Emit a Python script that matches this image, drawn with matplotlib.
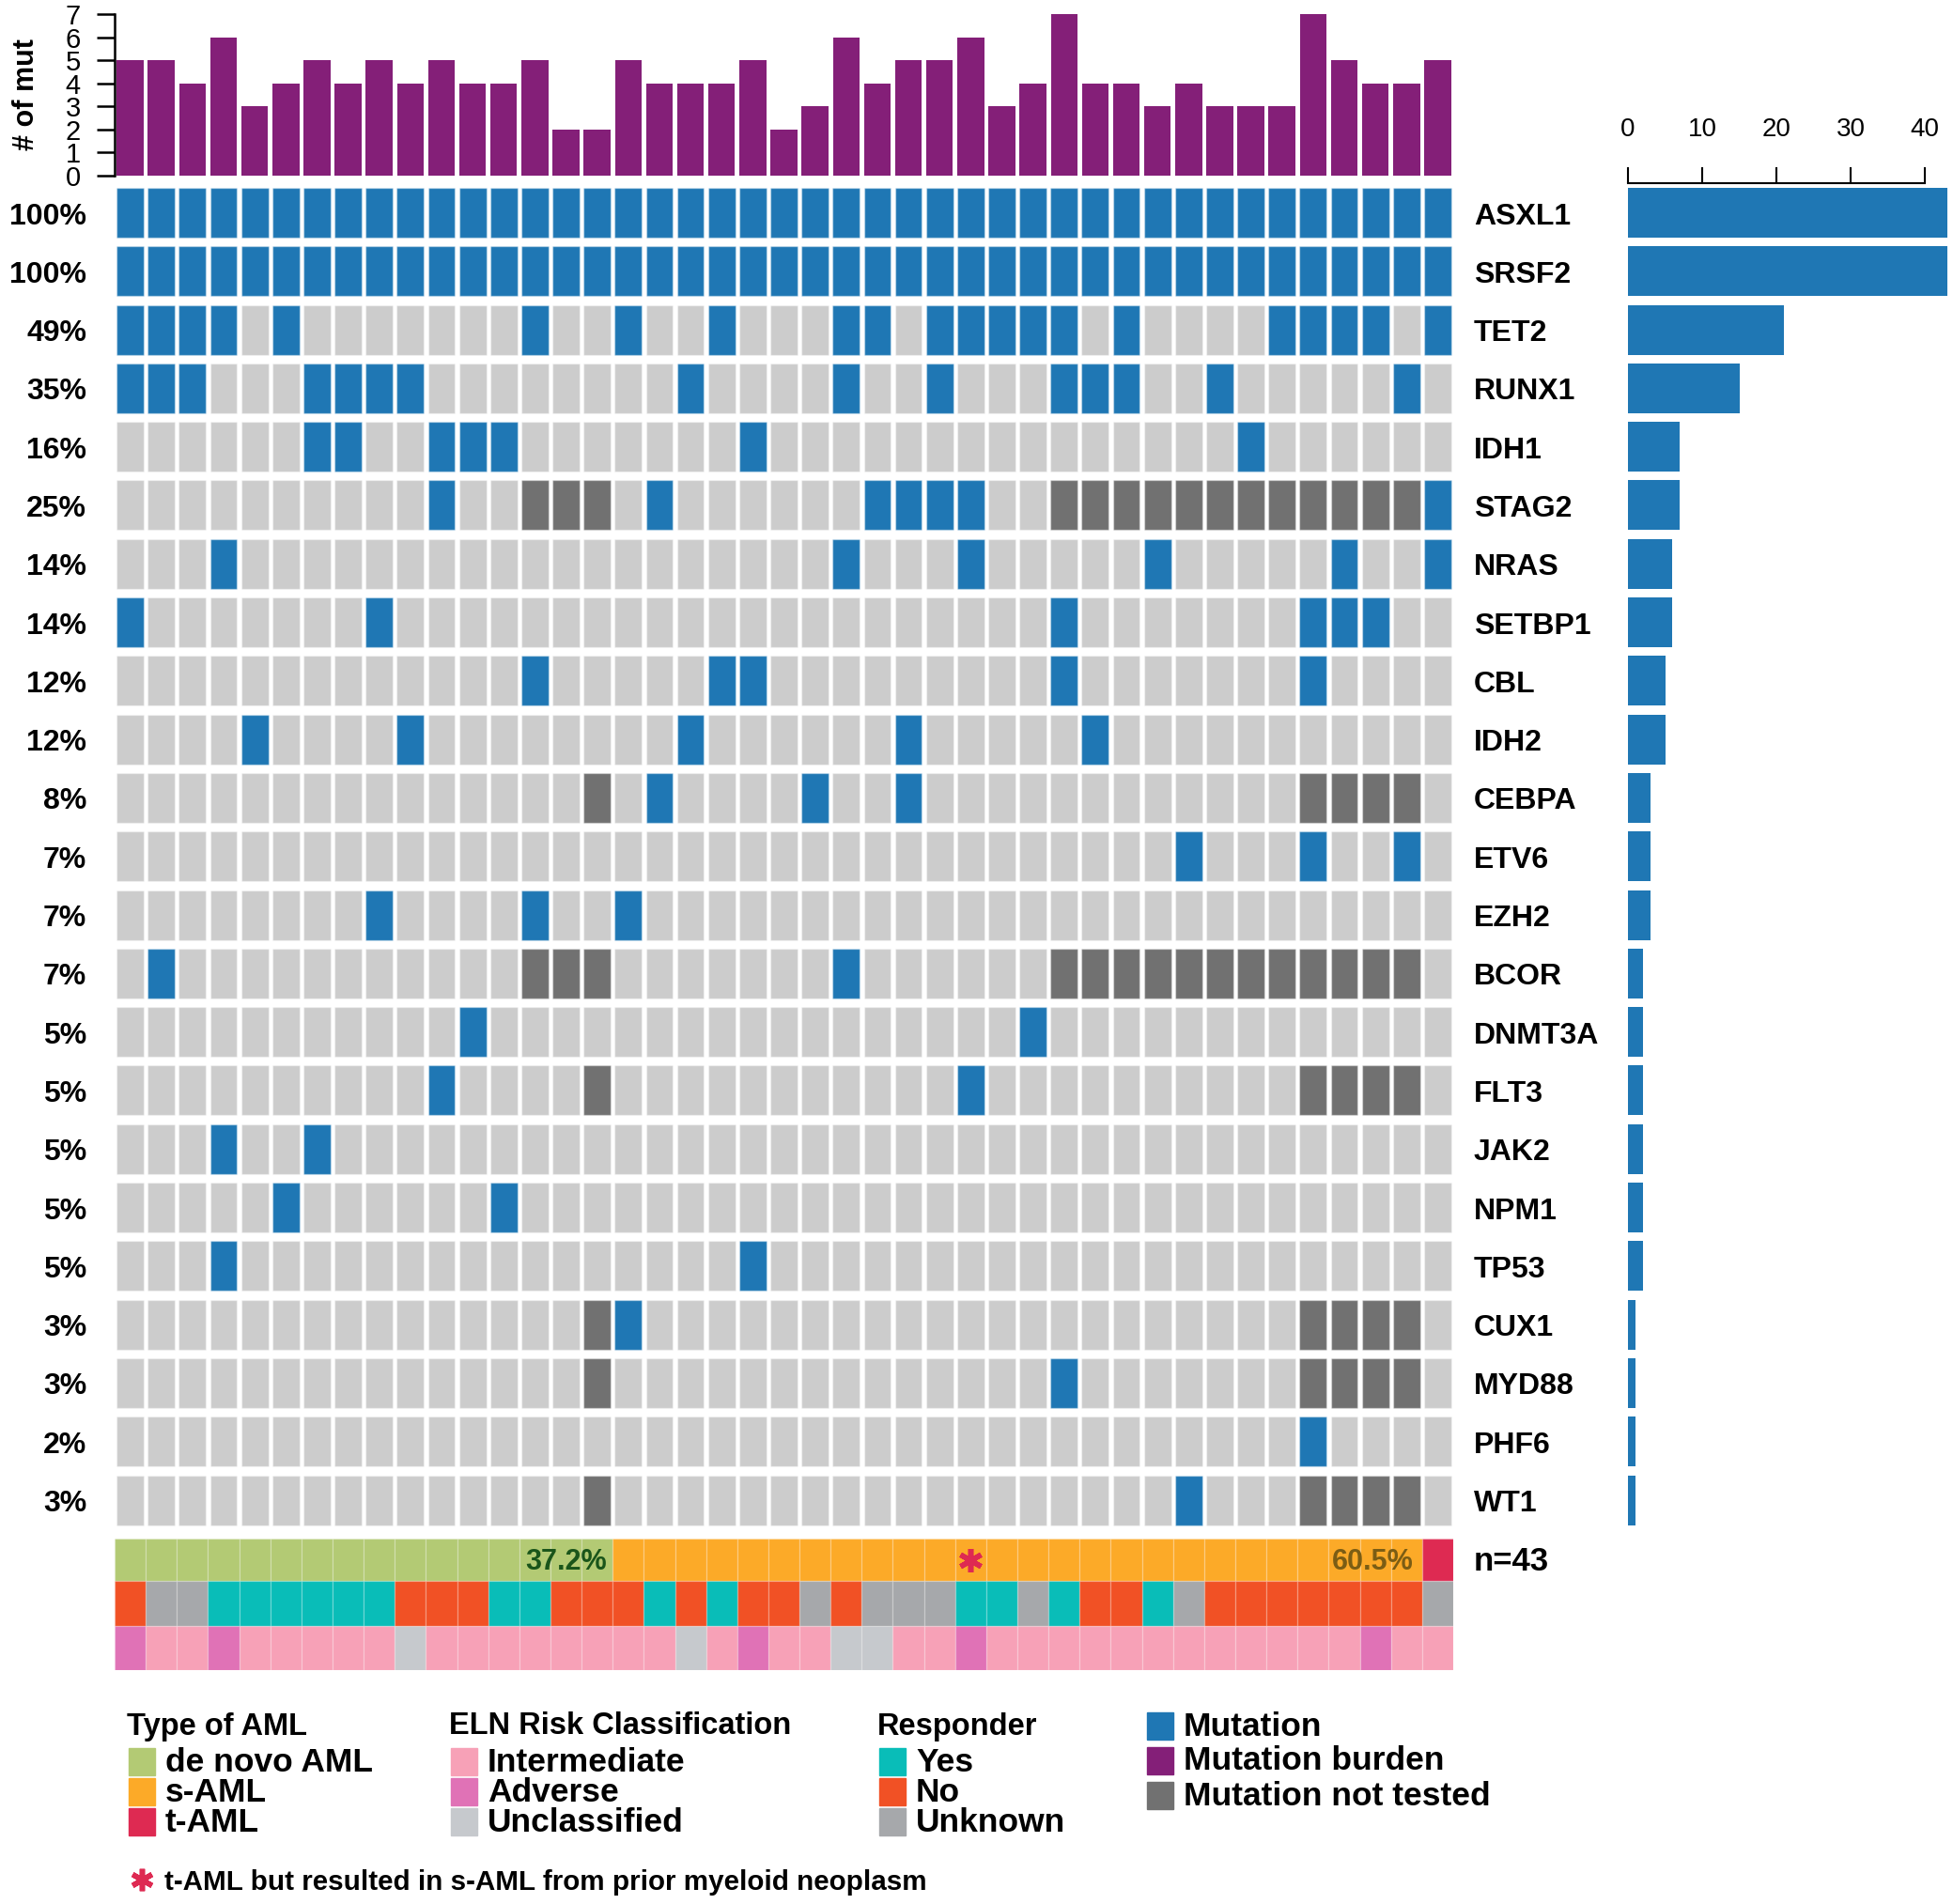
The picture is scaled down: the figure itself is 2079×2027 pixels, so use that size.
import numpy as np
import matplotlib
matplotlib.use('Agg')
import matplotlib.pyplot as plt
from matplotlib.patches import Rectangle

plt.rcParams['font.family'] = ['Liberation Sans', 'DejaVu Sans']

# genes, top to bottom, with the printed frequency labels
genes = ['ASXL1', 'SRSF2', 'TET2', 'RUNX1', 'IDH1', 'STAG2', 'NRAS', 'SETBP1',
         'CBL', 'IDH2', 'CEBPA', 'ETV6', 'EZH2', 'BCOR', 'DNMT3A', 'FLT3',
         'JAK2', 'NPM1', 'TP53', 'CUX1', 'MYD88', 'PHF6', 'WT1']
pct_labels = ['100%', '100%', '49%', '35%', '16%', '25%', '14%', '14%', '12%',
              '12%', '8%', '7%', '7%', '7%', '5%', '5%', '5%', '5%', '5%',
              '3%', '3%', '2%', '3%']
# number of mutated patients per gene (right bar chart)
gene_counts = [43, 43, 21, 15, 7, 7, 6, 6, 5, 5, 3, 3, 3, 2, 2, 2, 2, 2, 2,
               1, 1, 1, 1]
# mutations per patient (top bar chart)
mut_burden = [5, 5, 4, 6, 3, 4, 5, 4, 5, 4, 5, 4, 4, 5, 2, 2, 5, 4, 4, 4, 5,
              2, 3, 6, 4, 5, 5, 6, 3, 4, 7, 4, 4, 3, 4, 3, 3, 3, 7, 5, 4, 4, 5]

# one string per gene, one char per patient: M = mutation, . = none, N = not tested
mutations = [
    "MMMMMMMMMM" "MMMMMMMMMM" "MMMMMMMMMM" "MMMMMMMMMM" "MMM",  # ASXL1
    "MMMMMMMMMM" "MMMMMMMMMM" "MMMMMMMMMM" "MMMMMMMMMM" "MMM",  # SRSF2
    "MMMM.M...." "...M..M..M" "...MM.MMMM" "M.M....MMM" "M.M",  # TET2
    "MMM...MMMM" "........M." "...M..M..." "MMM..M...." ".M.",  # RUNX1
    "......MM.." "MMM......." "M........." "......M..." "...",  # IDH1
    ".........." "M..NNN.M.." "....MMMM.." "NNNNNNNNNN" "NNM",  # STAG2
    "...M......" ".........." "...M...M.." "...M.....M" "..M",  # NRAS
    "M.......M." ".........." ".........." "M.......MM" "M..",  # SETBP1
    ".........." "...M.....M" "M........." "M.......M." "...",  # CBL
    "....M....M" "........M." ".....M...." ".M........" "...",  # IDH2
    ".........." ".....N.M.." "..M..M...." "........NN" "NN.",  # CEBPA
    ".........." ".........." ".........." "....M...M." ".M.",  # ETV6
    "........M." "...M..M..." ".........." ".........." "...",  # EZH2
    ".M........" "...NNN...." "...M......" "NNNNNNNNNN" "NN.",  # BCOR
    ".........." ".M........" ".........M" ".........." "...",  # DNMT3A
    ".........." "M....N...." ".......M.." "........NN" "NN.",  # FLT3
    "...M..M..." ".........." ".........." ".........." "...",  # JAK2
    ".....M...." "..M......." ".........." ".........." "...",  # NPM1
    "...M......" ".........." "M........." ".........." "...",  # TP53
    ".........." ".....NM..." ".........." "........NN" "NN.",  # CUX1
    ".........." ".....N...." ".........." "M.......NN" "NN.",  # MYD88
    ".........." ".........." ".........." "........M." "...",  # PHF6
    ".........." ".....N...." ".........." "....M...NN" "NN.",  # WT1
]

# annotation tracks: D/S/T = de novo / s-AML / t-AML
aml_type = "DDDDDDDDDD" "DDDDDDSSSS" "SSSSSSSSSS" "SSSSSSSSSS" "SST"
# Y = yes, N = no, U = unknown
responder = "NUUYYYYYYN" "NNYYNNNYNY" "NNUNUUUYYU" "YNNYUNNNNN" "NNU"
# I = intermediate, A = adverse, U = unclassified
eln_risk = "AIIAIIIIIU" "IIIIIIIIUI" "AIIUUIIAII" "IIIIIIIIII" "AII"
starred_col = 27  # t-AML that resulted in s-AML

BLUE = '#1f77b4'
LIGHT = '#cccccc'
DARK = '#717171'
PURPLE = '#841f78'
STAR = '#de2a52'
type_colors = {'D': '#b3ca74', 'S': '#fcaa28', 'T': '#de2a52'}
resp_colors = {'Y': '#09bdb8', 'N': '#f15125', 'U': '#a6a8ab'}
eln_colors = {'I': '#f7a1b7', 'A': '#e072b6', 'U': '#c6c9cd'}
cell_colors = {'M': BLUE, '.': LIGHT, 'N': DARK}

W, H = 2079, 2027
fig = plt.figure(figsize=(W / 100, H / 100), dpi=100, facecolor='white')


def box(x0, y0, x1, y1):
    return [x0 / W, 1 - y1 / H, (x1 - x0) / W, (y1 - y0) / H]


ncol = len(mut_burden)
cols = np.arange(ncol)
ylim = (25.33, -0.08)

# main oncoprint grid
ax = fig.add_axes(box(122, 195, 1547, 1778))
ax.set_xlim(0, ncol)
ax.set_ylim(*ylim)
ax.axis('off')
for i, row in enumerate(mutations):
    ax.bar(cols + 0.5, 0.85, bottom=i, width=0.87,
           color=[cell_colors[c] for c in row],
           edgecolor=(1, 1, 1, 0.35), linewidth=1)
    ax.text(-0.9, i + 0.49, pct_labels[i], ha='right', va='center',
            fontsize=23, fontweight='bold')
    ax.text(43.66, i + 0.49, genes[i], ha='left', va='center',
            fontsize=23, fontweight='bold')

tracks = [(aml_type, type_colors, 23.08, 0.73),
          (responder, resp_colors, 23.81, 0.76),
          (eln_risk, eln_colors, 24.57, 0.76)]
for codes, cmap, y0, h in tracks:
    ax.bar(cols + 0.5, h, bottom=y0, width=1.0,
           color=[cmap[c] for c in codes],
           edgecolor=(1, 1, 1, 0.18), linewidth=1)

n_d = aml_type.count('D')
n_s = aml_type.count('S')
ax.text(n_d - 0.2, 23.49, f'{100 * n_d / ncol:.1f}%', ha='right', va='center',
        fontsize=22, fontweight='bold', color='#1a551a')
ax.text(n_d + n_s - 0.27, 23.49, f'{100 * n_s / ncol:.1f}%', ha='right',
        va='center', fontsize=22, fontweight='bold', color='#7b5d14')
ax.plot(starred_col + 0.5, 23.45, marker=(6, 2, 0), ms=18, mew=4,
        color=STAR)
ax.text(43.66, 23.47, f'n={ncol}', ha='left', va='center',
        fontsize=25, fontweight='bold')

# mutation burden on top
axt = fig.add_axes(box(122, 15, 1547, 187))
axt.bar(cols + 0.5, mut_burden, width=0.86, color=PURPLE)
axt.set_xlim(0, ncol)
axt.set_ylim(0, 7)
for s in ['top', 'right', 'bottom']:
    axt.spines[s].set_visible(False)
axt.spines['left'].set_linewidth(1.8)
axt.set_xticks([])
axt.set_yticks(range(8))
axt.tick_params(axis='y', length=14, width=1.8, pad=12, labelsize=21)
axt.text(-0.066, 0.5, '# of mut', transform=axt.transAxes, rotation=90,
         ha='center', va='center', fontsize=22, fontweight='bold')

# gene frequency bars on the right
axr = fig.add_axes(box(1733, 195, 2073, 1778))
axr.barh(np.arange(len(genes)), gene_counts, height=0.85, align='edge',
         color=BLUE)
axr.set_xlim(0, ncol)
axr.set_ylim(*ylim)
for s in ['bottom', 'left', 'right']:
    axr.spines[s].set_visible(False)
axr.spines['top'].set_linewidth(1.5)
axr.spines['top'].set_bounds(0, 40)
axr.xaxis.tick_top()
axr.set_xticks([0, 10, 20, 30, 40])
axr.set_yticks([])
axr.tick_params(axis='x', length=12, width=1.5, pad=20, labelsize=20)

# legend
lax = fig.add_axes([0, 0, 1, 1], zorder=-1)
lax.set_xlim(0, W)
lax.set_ylim(H, 0)
lax.axis('off')

legend_groups = [
    ('Type of AML', 135, [('de novo AML', type_colors['D']),
                          ('s-AML', type_colors['S']),
                          ('t-AML', type_colors['T'])]),
    ('ELN Risk Classification', 478, [('Intermediate', eln_colors['I']),
                                      ('Adverse', eln_colors['A']),
                                      ('Unclassified', eln_colors['U'])]),
    ('Responder', 934, [('Yes', resp_colors['Y']),
                        ('No', resp_colors['N']),
                        ('Unknown', resp_colors['U'])]),
    (None, 1219, [('Mutation', BLUE), ('Mutation burden', PURPLE),
                  ('Mutation not tested', DARK)]),
]
for title, x0, items in legend_groups:
    if title:
        lax.text(x0, 1838, title, ha='left', va='center', fontsize=23.5,
                 fontweight='bold')
        y_first, step = 1875, 32
    else:
        y_first, step = 1837, 37
    for k, (lab, col) in enumerate(items):
        yc = y_first + k * step
        lax.add_patch(Rectangle((x0 + 2, yc - 14.5), 28, 29, color=col))
        lax.text(x0 + 41, yc + 1, lab, ha='left', va='center', fontsize=25.5,
                 fontweight='bold')

lax.plot(151, 2001, marker=(6, 2, 0), ms=17, mew=4, color=STAR)
lax.text(175, 2004, 't-AML but resulted in s-AML from prior myeloid neoplasm',
         ha='left', va='center', fontsize=21.3, fontweight='bold')

fig.savefig('out.png', dpi=100)
